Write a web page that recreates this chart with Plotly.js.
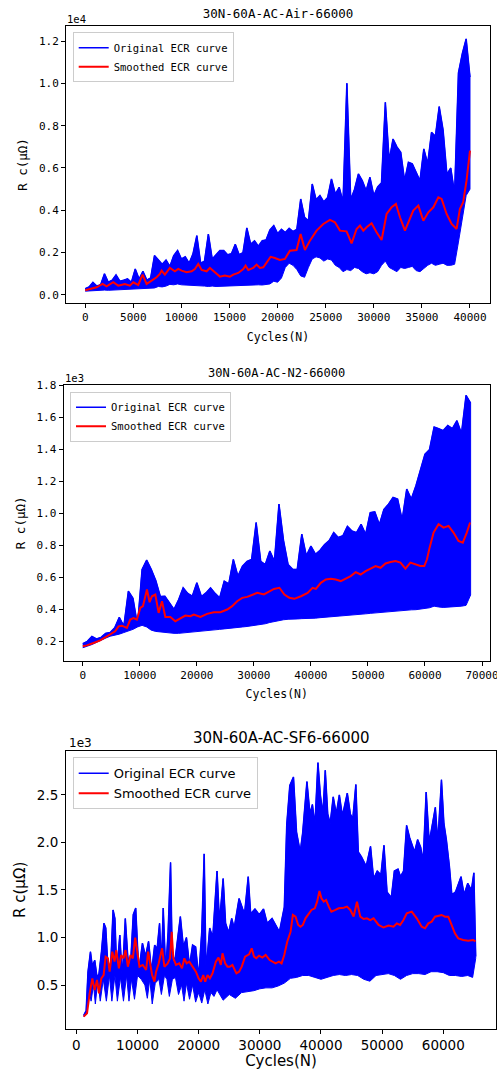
<!DOCTYPE html>
<html><head><meta charset="utf-8">
<script src="https://cdn.plot.ly/plotly-3.0.1.min.js"></script>
<style>html,body{margin:0;padding:0;background:#fff}#g{width:497px;height:1070px}</style>
</head><body><div id="g"></div>
<script>
// ---------- Chart 1 : Air ----------
const air_x = [0,400,800,1200,1600,2000,2400,2800,3200,3600,4000,4400,4800,5200,5600,6000,6400,6800,7200,7600,8000,8400,8800,9200,9600,10000,10400,10800,11200,11600,12000,12400,12800,13200,13600,14000,14400,14800,15200,15600,16000,16400,16800,17200,17600,18000,18400,18800,19200,19600,20000,20400,20800,21200,21600,22000,22400,22800,23200,23600,24000,24400,24800,25200,25600,26000,26400,26800,27200,27600,28000,28400,28800,29200,29600,30000,30400,30800,31200,31600,32000,32400,32800,33200,33600,34000,34400,34800,35200,35600,36000,36400,36800,37200,37600,38000,38400,38800,39200,39600,40000];
const air_hi = [300,380,600,420,480,1000,600,700,950,650,700,760,600,1230,750,1120,700,800,1860,1650,1450,1650,1350,1860,2100,1700,1800,1500,1940,2800,1500,1600,2880,1700,1900,2100,2100,1900,1950,2400,1900,2000,3165,2400,2560,2300,2560,2600,3070,3280,2900,3100,2950,3150,3000,3100,4535,3670,3500,5245,4500,4700,4400,4600,5480,4770,5090,4400,10000,4500,5000,5720,5400,4930,5560,4700,5100,5300,9100,6350,7370,7000,6740,5400,6270,6200,5800,5400,6900,6200,7690,7500,8900,7800,5700,6000,4800,10500,11400,12100,10300];
const air_lo = [180,200,220,200,220,230,220,230,240,230,240,250,260,270,290,300,300,320,330,400,380,420,500,480,520,480,460,440,430,420,430,420,400,420,400,410,420,400,420,430,440,460,450,460,470,480,470,480,520,650,600,800,1300,1500,1400,1200,900,835,1300,1700,1800,1750,1600,1700,1650,1400,1300,1100,1200,1150,1300,1250,1100,1000,1050,1000,1100,1400,1600,1300,1200,1100,1300,1250,1300,1350,1150,1100,1250,1400,1500,1400,1450,1500,1400,1400,1450,2500,3500,4700,5000];
const air_red_x = [0,830,1180,1800,2220,2910,3430,4120,4640,4990,5510,5960,6380,6900,7420,7760,7940,8280,8800,9320,9670,10020,10540,11060,11400,11750,12100,12620,12960,13480,14000,14520,15040,15390,15910,16430,16670,16950,17460,17820,18160,18510,18850,19270,19720,20240,20760,21280,21970,22390,22840,23360,24050,24750,25440,25960,26480,27170,27690,28210,28560,28910,29250,29770,30290,30810,31330,31850,32300,32720,33240,33760,34100,34630,35150,35670,36190,36710,37050,37570,38090,38610,38950,39290,39640,40000];
const air_red = [220,315,362,520,410,600,441,520,441,600,472,960,520,677,835,992,1150,960,1276,1118,1229,1150,1071,1118,1229,1465,1181,1118,1276,1071,866,914,866,960,1040,1229,1386,1181,1276,1433,1276,1307,1544,1800,1748,1654,1701,2095,2126,2882,2126,2567,3040,3355,3544,3434,3040,3008,2441,3119,3276,3040,3197,3386,2961,2599,3827,4142,4300,3670,3040,3591,3985,4221,3512,3906,4142,4615,4536,3827,3355,3119,4064,4379,5402,6820];
const air_xticks = [0,5000,10000,15000,20000,25000,30000,35000,40000];
const air_yticks = [0,2000,4000,6000,8000,10000,12000];
const air_ylabels = ['0.0','0.2','0.4','0.6','0.8','1.0','1.2'];

// ---------- Chart 2 : N2 ----------
const n2_x = [0,800,1600,2400,3200,4000,4800,5600,6400,7200,8000,8800,9600,10400,11200,12000,12800,13600,14400,15200,16000,16800,17600,18400,19200,20000,20800,21600,22400,23200,24000,24800,25600,26400,27200,28000,28800,29600,30400,31200,32000,32800,33600,34400,35200,36000,36800,37600,38400,39200,40000,40800,41600,42400,43200,44000,44800,45600,46400,47200,48000,48800,49600,50400,51200,52000,52800,53600,54400,55200,56000,56800,57600,58400,59200,60000,60800,61600,62400,63200,64000,64800,65600,66400,67200,68000];
const n2_hi = [185,200,231,215,225,250,255,285,350,295,514,470,300,650,708,650,580,480,482,440,400,460,535,500,482,566,480,503,535,500,472,577,560,712,608,670,700,712,943,700,680,765,700,1058,830,680,650,650,870,735,796,745,770,805,830,880,850,860,920,890,880,932,870,1005,1010,930,1026,1058,1100,1090,960,1152,1090,1172,1277,1370,1400,1540,1530,1518,1550,1530,1580,1500,1738,1690];
const n2_lo = [160,170,180,195,205,220,232,240,245,255,263,275,290,300,290,270,262,258,255,252,250,250,252,255,258,260,262,265,268,272,275,278,280,283,286,290,293,296,300,305,310,318,325,330,335,338,340,340,342,343,345,345,348,350,352,355,358,360,362,365,368,370,372,375,378,380,382,385,388,390,392,395,397,398,400,405,410,420,415,412,413,415,418,420,425,490];
const n2_red_x = [0,700,1880,3050,4220,5100,5680,6270,6860,7740,8320,8910,9490,10080,10550,11250,11720,12130,12720,13300,13890,14470,15350,16230,17110,17990,18870,19460,20630,21800,22970,24140,25320,26190,27070,27950,28830,29710,30590,31760,32640,33520,34480,35350,36220,37090,38260,39420,40290,40870,41740,42620,43490,44360,45230,46100,46980,47850,48720,49590,50470,51340,52210,53080,53950,54830,55700,56570,57440,58310,59190,59880,60350,60810,61510,62380,63260,64130,65000,65870,66630,67330,67910];
const n2_red = [169,175,190,206,231,252,263,294,298,284,336,346,336,409,420,524,445,482,493,378,451,353,353,326,346,361,357,367,353,372,382,382,399,420,451,472,478,493,503,493,508,528,535,493,472,466,482,503,535,528,566,587,591,587,577,591,608,633,618,639,654,671,660,687,696,702,692,654,692,681,671,671,713,786,880,932,911,922,880,828,817,880,943];
const n2_xticks = [0,10000,20000,30000,40000,50000,60000,70000];
const n2_yticks = [200,400,600,800,1000,1200,1400,1600,1800];
const n2_ylabels = ['0.2','0.4','0.6','0.8','1.0','1.2','1.4','1.6','1.8'];

// ---------- Chart 3 : SF6 ----------
const sf6_hi_x = [1200,1600,1900,2300,2600,3000,3400,3700,4100,4500,4800,5200,5600,6000,6300,6600,7100,7500,8000,8400,8800,9300,9700,10200,10800,11300,11800,12300,12800,13200,13600,13900,14200,14600,15000,15400,15700,16200,17000,17500,18000,18500,19000,19500,20000,20500,20900,21200,21800,22300,23000,23400,24000,24400,24900,25400,25800,26600,27200,27500,28100,28500,29200,29900,30600,31200,32000,32600,33200,34000,34400,34900,35500,36000,36600,37000,37300,37700,38200,38600,39000,39500,39900,40300,40700,41100,41500,42000,42500,43000,43500,44300,44800,45200,45700,46100,46600,47400,48100,48600,49200,49800,50300,50800,51500,52000,52600,53000,53500,54000,54500,55300,55800,56300,56700,57200,57700,58200,58700,59100,59700,60100,60500,61000,61400,62000,62900,63400,64000,64600,65000,65300];
const sf6_hi = [180,230,640,850,700,760,570,620,850,1150,1100,640,700,1290,1200,640,1025,570,1200,800,650,1240,1310,640,940,800,960,640,920,880,1150,700,1310,640,1060,1790,700,800,1220,900,1000,700,920,900,580,1060,1880,650,1100,1000,1700,1160,1620,1150,1050,1200,1100,1410,1300,1250,1640,1250,1300,1240,1300,1150,1200,1130,1060,1320,2190,2600,2690,2110,1900,2100,2380,2640,2300,2400,2180,2840,2500,2300,2760,2300,2200,2480,2300,2500,2280,2520,2300,2250,2610,1900,1850,1750,1960,1620,1700,1660,1970,1480,1420,1700,1720,1640,1700,2180,2050,1900,2030,1950,1800,2530,2000,2200,2370,2000,2660,2200,2030,1750,1450,1480,1640,1450,1570,1500,1680,800];
const sf6_lo_x = [1200,1700,2100,2400,2800,3100,3500,3900,4400,4900,5400,5800,6300,6700,7200,7700,8200,8600,9000,9500,10000,10600,11200,11600,12000,12400,12900,13500,13900,14400,14800,15200,15700,16200,16700,17200,17600,18000,18500,19000,19500,20000,20500,21000,21500,22000,22500,23000,23500,24000,25000,26000,27000,28000,29000,30000,31000,32000,33000,34000,35000,36000,37000,38000,39000,40000,41000,42000,43000,44000,45000,46000,47000,48000,49000,50000,51000,52000,53000,54000,55000,56000,57000,58000,59000,60000,61000,62000,63000,64000,64800,65300];
const sf6_lo = [165,200,450,330,500,300,550,330,560,330,600,330,600,330,580,330,600,330,560,350,600,560,500,360,560,300,520,560,400,600,560,380,560,580,400,500,330,520,350,500,320,420,310,450,300,420,380,450,400,340,400,360,420,430,440,460,470,470,490,520,570,580,600,600,580,560,580,600,610,600,610,600,560,540,600,610,620,600,560,600,620,620,610,640,640,630,600,600,590,600,580,780];
const sf6_red_x = [1195,1738,2172,2606,2987,3367,3692,4073,4453,4778,5159,5430,5864,6245,6516,6950,7331,7711,8036,8417,8851,9231,9611,9883,10317,10860,11403,11729,12055,12380,12761,13032,13466,14009,14390,14933,15313,15584,15856,16290,16833,17267,17648,18028,18462,19005,19548,19982,20363,20743,21068,21449,21829,22263,22806,23240,23621,23892,24326,24707,25087,25521,26173,26607,27041,27584,28236,28670,29051,29431,29865,30408,30951,31603,32037,32580,33123,33557,33992,34481,35024,35404,35838,36272,36653,37033,37467,38010,38444,38987,39368,39748,40073,40454,40834,41268,41702,42354,42897,43712,44255,44798,45340,45884,46427,46970,47513,48056,48599,49413,50228,51042,51857,52400,52943,53486,54029,54843,55658,56472,57015,57558,58101,58644,59187,59730,60273,60816,61359,61902,62445,63260,64074,64889,65270];
const sf6_red = [167,202,412,570,447,553,412,570,605,798,781,640,851,746,868,675,816,781,868,693,816,781,998,886,693,711,658,851,711,605,535,640,728,886,693,728,781,1061,781,711,728,675,781,728,746,693,640,570,535,605,535,605,570,623,746,788,711,833,728,693,693,711,623,640,693,798,823,886,798,781,809,788,816,763,746,728,746,728,816,956,1061,1237,1219,1132,1114,1132,1202,1254,1290,1307,1377,1490,1412,1377,1395,1325,1272,1290,1307,1314,1325,1290,1220,1377,1220,1195,1202,1184,1202,1132,1105,1125,1114,1149,1132,1184,1254,1272,1202,1114,1097,1149,1167,1219,1230,1237,1219,1219,1132,1044,991,974,967,974,960];
const sf6_xticks = [0,10000,20000,30000,40000,50000,60000];
const sf6_yticks = [500,1000,1500,2000,2500];
const sf6_ylabels = ['0.5','1.0','1.5','2.0','2.5'];

const titles = ['30N-60A-AC-Air-66000','30N-60A-AC-N2-66000','30N-60A-AC-SF6-66000'];
const xTitle = 'Cycles(N)';
const yTitle = 'R c(μΩ)';
const names = ['Original ECR curve','Smoothed ECR curve'];

// ---------- build ----------
const W = 497, H = 1070;
const MONO = 'DejaVu Sans Mono, monospace';
const SANS = 'DejaVu Sans, sans-serif';
const BLUE = '#0000ff', RED = '#ff0000';

function band(hx, hy, lx, ly) {
  return {x: hx.concat(lx.slice().reverse()), y: hy.concat(ly.slice().reverse())};
}
function traces(k, hx, hy, lx, ly, rx, ry) {
  const ax = k === 1 ? '' : String(k);
  const lg = k === 1 ? 'legend' : 'legend' + k;
  const b = band(hx, hy, lx, ly);
  return [
    {x: b.x, y: b.y, xaxis: 'x' + ax, yaxis: 'y' + ax, mode: 'lines', fill: 'toself',
     fillcolor: BLUE, line: {color: BLUE, width: 1}, showlegend: false, hoverinfo: 'skip'},
    {x: hx, y: hy, xaxis: 'x' + ax, yaxis: 'y' + ax, mode: 'lines', name: names[0],
     line: {color: BLUE, width: 1.5}, legend: lg},
    {x: rx, y: ry, xaxis: 'x' + ax, yaxis: 'y' + ax, mode: 'lines', name: names[1],
     line: {color: RED, width: 2}, legend: lg}
  ];
}

const data = [].concat(
  traces(1, air_x, air_hi, air_x, air_lo, air_red_x, air_red),
  traces(2, n2_x, n2_hi, n2_x, n2_lo, n2_red_x, n2_red),
  traces(3, sf6_hi_x, sf6_hi, sf6_lo_x, sf6_lo, sf6_red_x, sf6_red)
);

function xa(dom, rng, ticks, fam, fs, tfs, standoff) {
  return {domain: dom, range: rng, tickvals: ticks, ticktext: ticks.map(String),
    ticks: 'outside', ticklen: 4, tickwidth: 1, tickcolor: '#000', ticklabeloverflow: 'allow',
    showline: true, mirror: true, linecolor: '#000', linewidth: 1,
    showgrid: false, zeroline: false, tickfont: {family: fam, size: fs, color: '#000'},
    title: {text: xTitle, font: {family: fam, size: tfs, color: '#000'}, standoff: standoff}};
}
function ya(dom, rng, ticks, labels, fam, fs, tfs, standoff) {
  return {domain: dom, range: rng, tickvals: ticks, ticktext: labels,
    ticks: 'outside', ticklen: 4, tickwidth: 1, tickcolor: '#000',
    showline: true, mirror: true, linecolor: '#000', linewidth: 1,
    showgrid: false, zeroline: false, tickfont: {family: fam, size: fs, color: '#000'},
    title: {text: yTitle, font: {family: fam, size: tfs, color: '#000'}, standoff: standoff}};
}
function leg(x, y, fam, fs) {
  return {x: x, y: y, xanchor: 'left', yanchor: 'top', xref: 'paper', yref: 'paper',
    bgcolor: 'rgba(255,255,255,0.85)', bordercolor: '#cccccc', borderwidth: 1,
    font: {family: fam, size: fs, color: '#000'}, itemwidth: 30, tracegroupgap: 0};
}
const px = v => v / W, py = v => 1 - v / H;

const layout = {
  width: W, height: H, margin: {l: 0, r: 0, t: 0, b: 0},
  paper_bgcolor: '#fff', plot_bgcolor: '#fff', showlegend: true,
  title: {text: titles[0], x: px(278), xref: 'paper', xanchor: 'center', y: py(14), yref: 'paper', yanchor: 'middle',
    font: {family: MONO, size: 12.5, color: '#000'}},
  xaxis: xa([px(66), px(490)], [-2000, 42080], air_xticks, MONO, 11, 11.5, 9),
  yaxis: ya([py(303), py(26)], [-380, 12710], air_yticks, air_ylabels, MONO, 11, 12.5, 8),
  xaxis2: Object.assign(xa([px(63.5), px(490)], [-3380, 71400], n2_xticks, MONO, 11, 11.5, 9), {anchor: 'y2'}),
  yaxis2: Object.assign(ya([py(660.7), py(385)], [79, 1803], n2_yticks, n2_ylabels, MONO, 11, 12.5, 8), {anchor: 'x2'}),
  xaxis3: Object.assign(xa([px(66), px(496)], [-1700, 68620], sf6_xticks, SANS, 13.5, 15, 6), {anchor: 'y3'}),
  yaxis3: Object.assign(ya([py(1029), py(750.7)], [37, 2966], sf6_yticks, sf6_ylabels, SANS, 13.5, 15, 7), {anchor: 'x3'}),
  legend: leg(px(72.7), py(32.3), MONO, 10.5),
  legend2: leg(px(70), py(391.7), MONO, 10.5),
  legend3: leg(px(72.7), py(757.3), SANS, 13),
  annotations: [
    {text: titles[1], x: px(276.5), y: py(372.7), xref: 'paper', yref: 'paper', xanchor: 'center', yanchor: 'middle', showarrow: false,
     font: {family: MONO, size: 12, color: '#000'}},
    {text: titles[2], x: px(281), y: py(738.3), xref: 'paper', yref: 'paper', xanchor: 'center', yanchor: 'middle', showarrow: false,
     font: {family: SANS, size: 15, color: '#000'}},
    {text: '1e4', x: px(65), y: py(19), xref: 'paper', yref: 'paper', xanchor: 'left', yanchor: 'middle', showarrow: false,
     font: {family: MONO, size: 10.5, color: '#000'}},
    {text: '1e3', x: px(62.5), y: py(378), xref: 'paper', yref: 'paper', xanchor: 'left', yanchor: 'middle', showarrow: false,
     font: {family: MONO, size: 10.5, color: '#000'}},
    {text: '1e3', x: px(66.5), y: py(743), xref: 'paper', yref: 'paper', xanchor: 'left', yanchor: 'middle', showarrow: false,
     font: {family: SANS, size: 12, color: '#000'}}
  ]
};

Plotly.newPlot('g', data, layout, {staticPlot: true, displayModeBar: false});
</script>
</body></html>
